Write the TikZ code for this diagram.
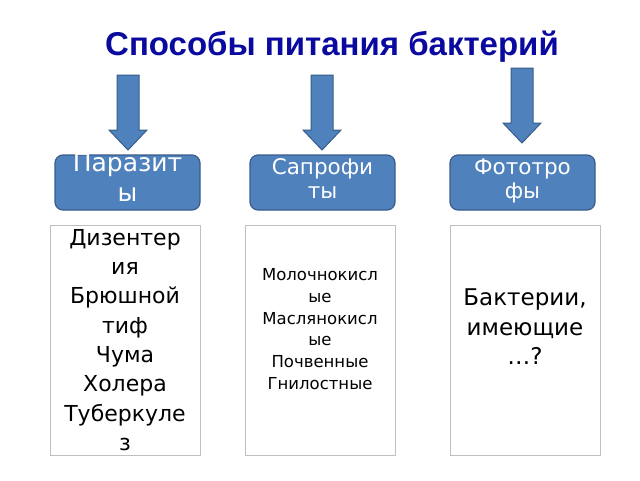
\documentclass[tikz,border=0pt]{standalone}
\usepackage{fontspec}
\setmainfont{DejaVu Sans}
\newfontfamily\titlefont{Liberation Sans}
\begin{document}
\begin{tikzpicture}[x=1pt,y=-1pt]
\definecolor{boxblue}{RGB}{79,129,189}
\definecolor{boxedge}{RGB}{56,93,138}
\definecolor{titleblue}{RGB}{10,10,160}
\tikzset{
  blockarrow/.pic={\fill[boxblue,draw=boxedge,line width=1pt]
     (-11,0)--(11,0)--(11,55)--(19,55)--(0,75)--(-19,55)--(-11,55)--cycle;},
  catbox/.style={draw=boxedge,line width=1.2pt,fill=boxblue,rounded corners=8pt,minimum width=145pt,minimum height=55pt,inner sep=0pt},
  listbox/.style={draw=black!25,line width=0.6pt,minimum width=150pt,minimum height=230pt,inner sep=0pt},
  cattext/.style={text=white,align=center,anchor=north},
  listtext/.style={align=center,anchor=center}
}
\useasboundingbox (0,0) rectangle (640,480);
\fill[white] (0,0) rectangle (640,480);
\node[font=\titlefont\bfseries\fontsize{33}{38}\selectfont,text=titleblue] (title) at (332,47) {Способы питания бактерий};
\pic at (128,75) {blockarrow};
\pic at (322,75) {blockarrow};
\pic at (522,68) {blockarrow};
\node[catbox] (p) at (127.5,182.5) {};
\node[catbox] (s) at (322.5,182.5) {};
\node[catbox] (f) at (522.5,182.5) {};
\node[cattext,font=\fontsize{25}{30}\selectfont] (pt) at (127.5,150) {Паразит\\ы};
\node[cattext,font=\fontsize{21.5}{24}\selectfont] (st) at (322.5,155) {Сапрофи\\ты};
\node[cattext,font=\fontsize{21.5}{24}\selectfont] (ft) at (522.5,155) {Фототро\\фы};
\node[listbox] (l1) at (125,340) {};
\node[listbox] (l2) at (320,340) {};
\node[listbox] (l3) at (525,340) {};
\node[listtext,font=\fontsize{22}{29.3}\selectfont] (l1t) at (125,340) {Дизентер\\ия\\Брюшной\\тиф\\Чума\\Холера\\Туберкуле\\з};
\node[listtext,font=\fontsize{16.5}{21.8}\selectfont] (l2t) at (320,329) {Молочнокисл\\ые\\Маслянокисл\\ые\\Почвенные\\Гнилостные};
\node[listtext,font=\fontsize{23}{29.5}\selectfont] (l3t) at (525,327) {Бактерии,\\имеющие\\…?};
\end{tikzpicture}
\end{document}
